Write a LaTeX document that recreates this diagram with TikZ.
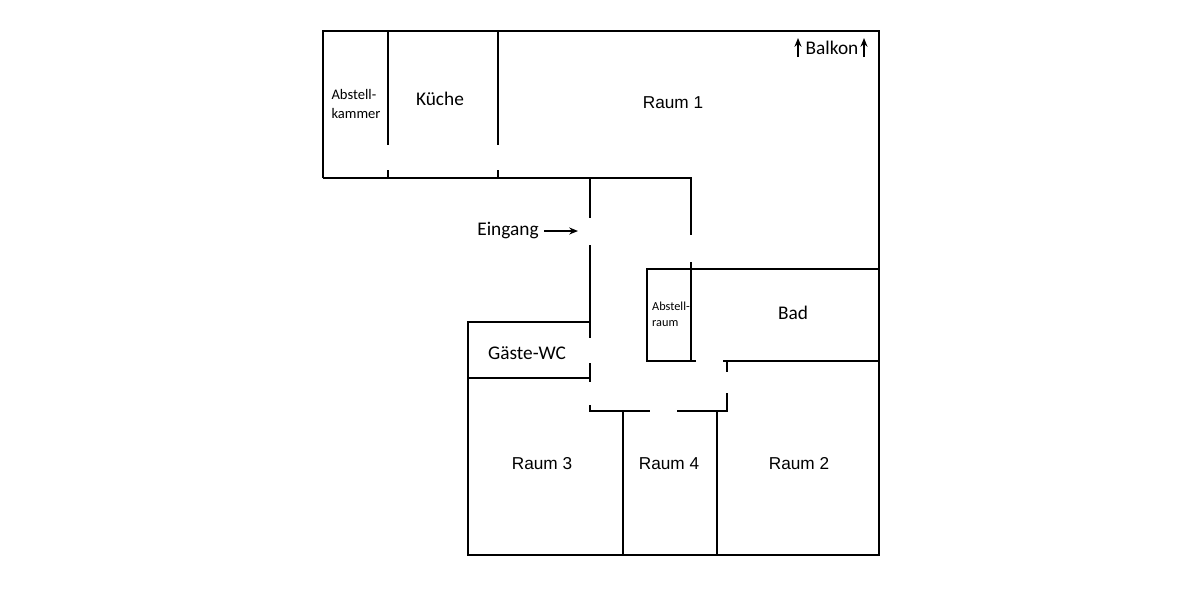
\documentclass[tikz,border=0pt]{standalone}
\usepackage{fontspec}
\setmainfont{Carlito}
\newfontfamily\arial{Liberation Sans}
\usetikzlibrary{arrows.meta}
\begin{document}
\begin{tikzpicture}[x=0.02cm,y=-0.02cm,
 wall/.style={line width=1.6pt},
 lbl/.style={inner sep=0pt,font=\fontsize{11}{13}\selectfont},
 sm/.style={inner sep=0pt,align=left,font=\fontsize{8.3}{10.5}\selectfont},
 tiny/.style={inner sep=0pt,align=left,font=\fontsize{7}{9}\selectfont},
 rm/.style={inner sep=0pt,font=\arial\fontsize{9.8}{12}\selectfont},
 arr/.style={line width=0.9pt,-{Stealth[length=5pt,width=4pt]}}]
\useasboundingbox (0,0) rectangle (1200,600);
% outer walls
\draw[wall] (323,178) -- (323,31) -- (879,31) -- (879,555) -- (468,555) -- (468,322) -- (590,322);
\draw[wall] (323,178) -- (691,178) -- (691,235);
\draw[wall] (388,31) -- (388,145); \draw[wall] (388,170) -- (388,178);
\draw[wall] (498,31) -- (498,145); \draw[wall] (498,170) -- (498,178);
% corridor
\draw[wall] (590,178) -- (590,218);
\draw[wall] (590,245) -- (590,338);
\draw[wall] (590,363) -- (590,382);
\draw[wall] (468,378) -- (590,378);
\draw[wall] (691,262) -- (691,361);
% Abstellraum / Bad
\draw[wall] (696,361) -- (647,361) -- (647,269) -- (879,269);
\draw[wall] (723,361) -- (879,361);
\draw[wall] (727,361) -- (727,372);
\draw[wall] (727,393) -- (727,411) -- (677,411);
\draw[wall] (590,405) -- (590,411) -- (650,411);
\draw[wall] (623,411) -- (623,555);
\draw[wall] (717,411) -- (717,555);
% labels
\node[sm] (ak) at (356,104) {Abstell-\\kammer};
\node[lbl] (ku) at (440,99) {Küche};
\node[rm] (r1) at (673,103) {Raum 1};
\node[lbl] (bk) at (832,48) {Balkon};
\coordinate (b1a) at (798,57); \coordinate (b1b) at (798,38);
\coordinate (b2a) at (864,57); \coordinate (b2b) at (864,38);
\draw[arr] (b1a) -- (b1b);
\draw[arr] (b2a) -- (b2b);
\node[lbl] (ein) at (508,231) {Eingang};
\coordinate (ea) at (544,231); \coordinate (eb) at (578,231);
\draw[arr] (ea) -- (eb);
\node[tiny] (ar) at (671,314) {Abstell-\\raum};
\node[lbl] (bad) at (793,313) {Bad};
\node[lbl] (wc) at (527,353) {Gäste-WC};
\node[rm] (r3) at (542,464) {Raum 3};
\node[rm] (r4) at (669,464) {Raum 4};
\node[rm] (r2) at (799,464) {Raum 2};
\end{tikzpicture}
\end{document}
